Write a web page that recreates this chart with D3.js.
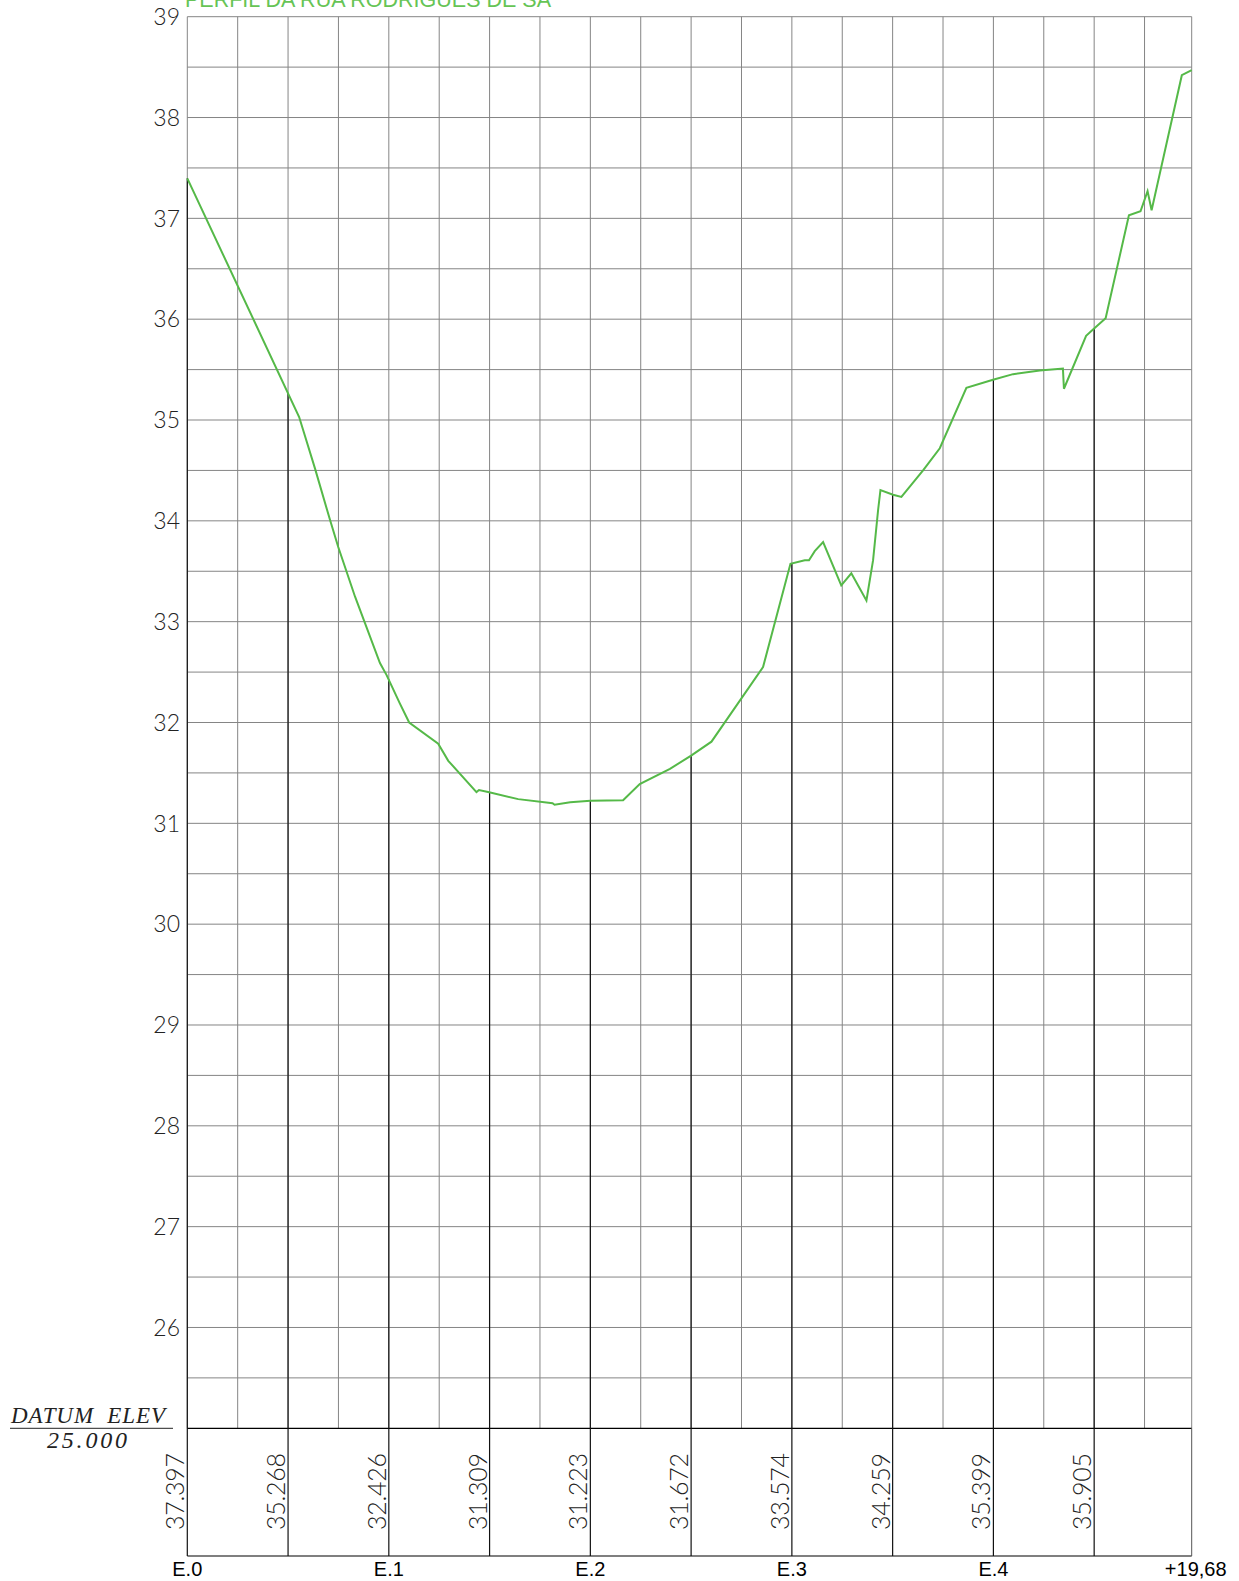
<!doctype html>
<html>
<head>
<meta charset="UTF-8">
<title>Perfil da Rua Rodrigues de Sa</title>
<script src="https://d3js.org/d3.v7.min.js"></script>
<style>
  body { margin: 0; background: #fff; }
  svg text { font-family: Lato, Roboto, "Liberation Sans", sans-serif; }
</style>
</head>
<body>
<svg id="chart" width="1239" height="1581"></svg>
<script>
// profile points: distance (m) and ground elevation
var dist = [0, 11.1, 12.67, 14.16, 14.98, 16.64, 19.12, 19.78, 21.09, 22.02, 24.9, 25.9, 28.7, 28.95, 29.96, 32.84, 36.25, 36.45, 38.0, 40.0, 43.25, 44.9, 47.9, 50.0, 52.02, 57.14, 59.86, 61.28, 61.7, 62.27, 63.1, 64.9, 65.9, 67.4, 68.06, 68.56, 68.79, 70.04, 70.87, 73.02, 74.68, 77.32, 79.96, 81.95, 84.6, 86.9, 87.0, 89.2, 89.97, 91.14, 93.45, 94.6, 95.3, 95.7, 98.7, 99.68];
var elev = [37.397, 35.03, 34.52, 34.01, 33.74, 33.25, 32.59, 32.47, 32.19, 32.0, 31.79, 31.62, 31.31, 31.33, 31.309, 31.24, 31.2, 31.185, 31.21, 31.223, 31.23, 31.39, 31.54, 31.672, 31.81, 32.55, 33.574, 33.61, 33.61, 33.7, 33.79, 33.36, 33.48, 33.21, 33.61, 34.11, 34.305, 34.259, 34.238, 34.5, 34.72, 35.32, 35.399, 35.455, 35.49, 35.51, 35.31, 35.835, 35.905, 36.01, 37.03, 37.07, 37.27, 37.08, 38.42, 38.47];

// stations every 10 m with their elevation labels
var stationDist = [0, 10, 20, 30, 40, 50, 60, 70, 80, 90];
var stationElev = ["37.397", "35.268", "32.426", "31.309", "31.223", "31.672", "33.574", "34.259", "35.399", "35.905"];

// stake names along the bottom
var stakeDist = [0, 20, 40, 60, 80, 99.68];
var stakeNames = ["E.0", "E.1", "E.2", "E.3", "E.4", "+19,68"];

var yTicks = [26, 27, 28, 29, 30, 31, 32, 33, 34, 35, 36, 37, 38, 39];

var svg = d3.select("#chart");
var x = d3.scaleLinear().domain([0, 99.68]).range([187.3, 1191.7]);
var y = d3.scaleLinear().domain([25, 39]).range([1428.3, 16.7]);
var bandBottom = 1556;
var green = "#55b948";

// title (partly off the top)
svg.append("text")
  .attr("x", 185).attr("y", 7)
  .attr("fill", "#66c455")
  .style("font-family", "'Liberation Sans', Arial, sans-serif")
  .style("font-size", "21.5px")
  .text("PERFIL DA RUA RODRIGUES DE SA");

// grid
var grid = svg.append("g").attr("stroke", "#858585").attr("stroke-width", 1);
grid.selectAll("line.v")
  .data(d3.range(0, 100, 5).concat([99.68]))
  .enter().append("line")
  .attr("x1", d => x(d)).attr("x2", d => x(d))
  .attr("y1", y(39)).attr("y2", y(25));
grid.selectAll("line.h")
  .data(d3.range(25.5, 39.01, 0.5))
  .enter().append("line")
  .attr("x1", x(0)).attr("x2", x(99.68))
  .attr("y1", d => y(d)).attr("y2", d => y(d));

// y labels
svg.append("g").selectAll("text")
  .data(yTicks)
  .enter().append("text")
  .attr("x", 180).attr("y", d => y(d)).attr("dy", "0.36em")
  .attr("text-anchor", "end")
  .style("font-size", "23px").style("font-weight", 300)
  .attr("fill", "#222")
  .text(d => d);

// label band
svg.append("line")
  .attr("x1", x(0)).attr("x2", x(99.68)).attr("y1", y(25)).attr("y2", y(25))
  .attr("stroke", "#000").attr("stroke-width", 1.2);
svg.append("line")
  .attr("x1", x(0)).attr("x2", x(99.68)).attr("y1", bandBottom).attr("y2", bandBottom)
  .attr("stroke", "#000").attr("stroke-width", 1.2);
svg.append("line")
  .attr("x1", x(99.68)).attr("x2", x(99.68)).attr("y1", y(25)).attr("y2", bandBottom)
  .attr("stroke", "#555").attr("stroke-width", 1);

// station lines from ground down to band bottom
svg.append("g").selectAll("line")
  .data(stationDist)
  .enter().append("line")
  .attr("x1", d => x(d)).attr("x2", d => x(d))
  .attr("y1", (d, i) => y(+stationElev[i])).attr("y2", bandBottom)
  .attr("stroke", "#111").attr("stroke-width", 1.2);

// station elevation labels
svg.append("g").selectAll("text")
  .data(stationDist)
  .enter().append("text")
  .attr("transform", d => "translate(" + (x(d) - 3) + ",1530) rotate(-90)")
  .attr("textLength", 77).attr("lengthAdjust", "spacing")
  .style("font-size", "25px").style("font-weight", 300)
  .attr("fill", "#222")
  .text((d, i) => stationElev[i]);

// stake names
svg.append("g").selectAll("text")
  .data(stakeDist)
  .enter().append("text")
  .attr("x", (d, i) => i === stakeNames.length - 1 ? x(d) + 4 : x(d))
  .attr("y", 1576)
  .attr("text-anchor", "middle")
  .style("font-family", "'Liberation Sans', Arial, sans-serif")
  .style("font-size", "20px")
  .attr("fill", "#000")
  .text((d, i) => stakeNames[i]);

// datum note
svg.append("text")
  .attr("x", 11).attr("y", 1423)
  .attr("textLength", 154).attr("lengthAdjust", "spacing")
  .style("white-space", "pre")
  .style("font-family", "'Liberation Serif', 'DejaVu Serif', serif")
  .style("font-style", "italic").style("font-size", "23px")
  .attr("fill", "#222")
  .text("DATUM  ELEV");
svg.append("line")
  .attr("x1", 10).attr("x2", 173).attr("y1", y(25)).attr("y2", y(25))
  .attr("stroke", "#222").attr("stroke-width", 1);
svg.append("text")
  .attr("x", 47).attr("y", 1448)
  .attr("textLength", 80).attr("lengthAdjust", "spacing")
  .style("font-family", "'Liberation Serif', 'DejaVu Serif', serif")
  .style("font-style", "italic").style("font-size", "24px")
  .attr("fill", "#222")
  .text("25.000");

// ground profile
var line = d3.line().x((d, i) => x(dist[i])).y(d => y(d));
svg.append("path")
  .datum(elev)
  .attr("d", line)
  .attr("fill", "none")
  .attr("stroke", green)
  .attr("stroke-width", 2);
</script>
</body>
</html>
